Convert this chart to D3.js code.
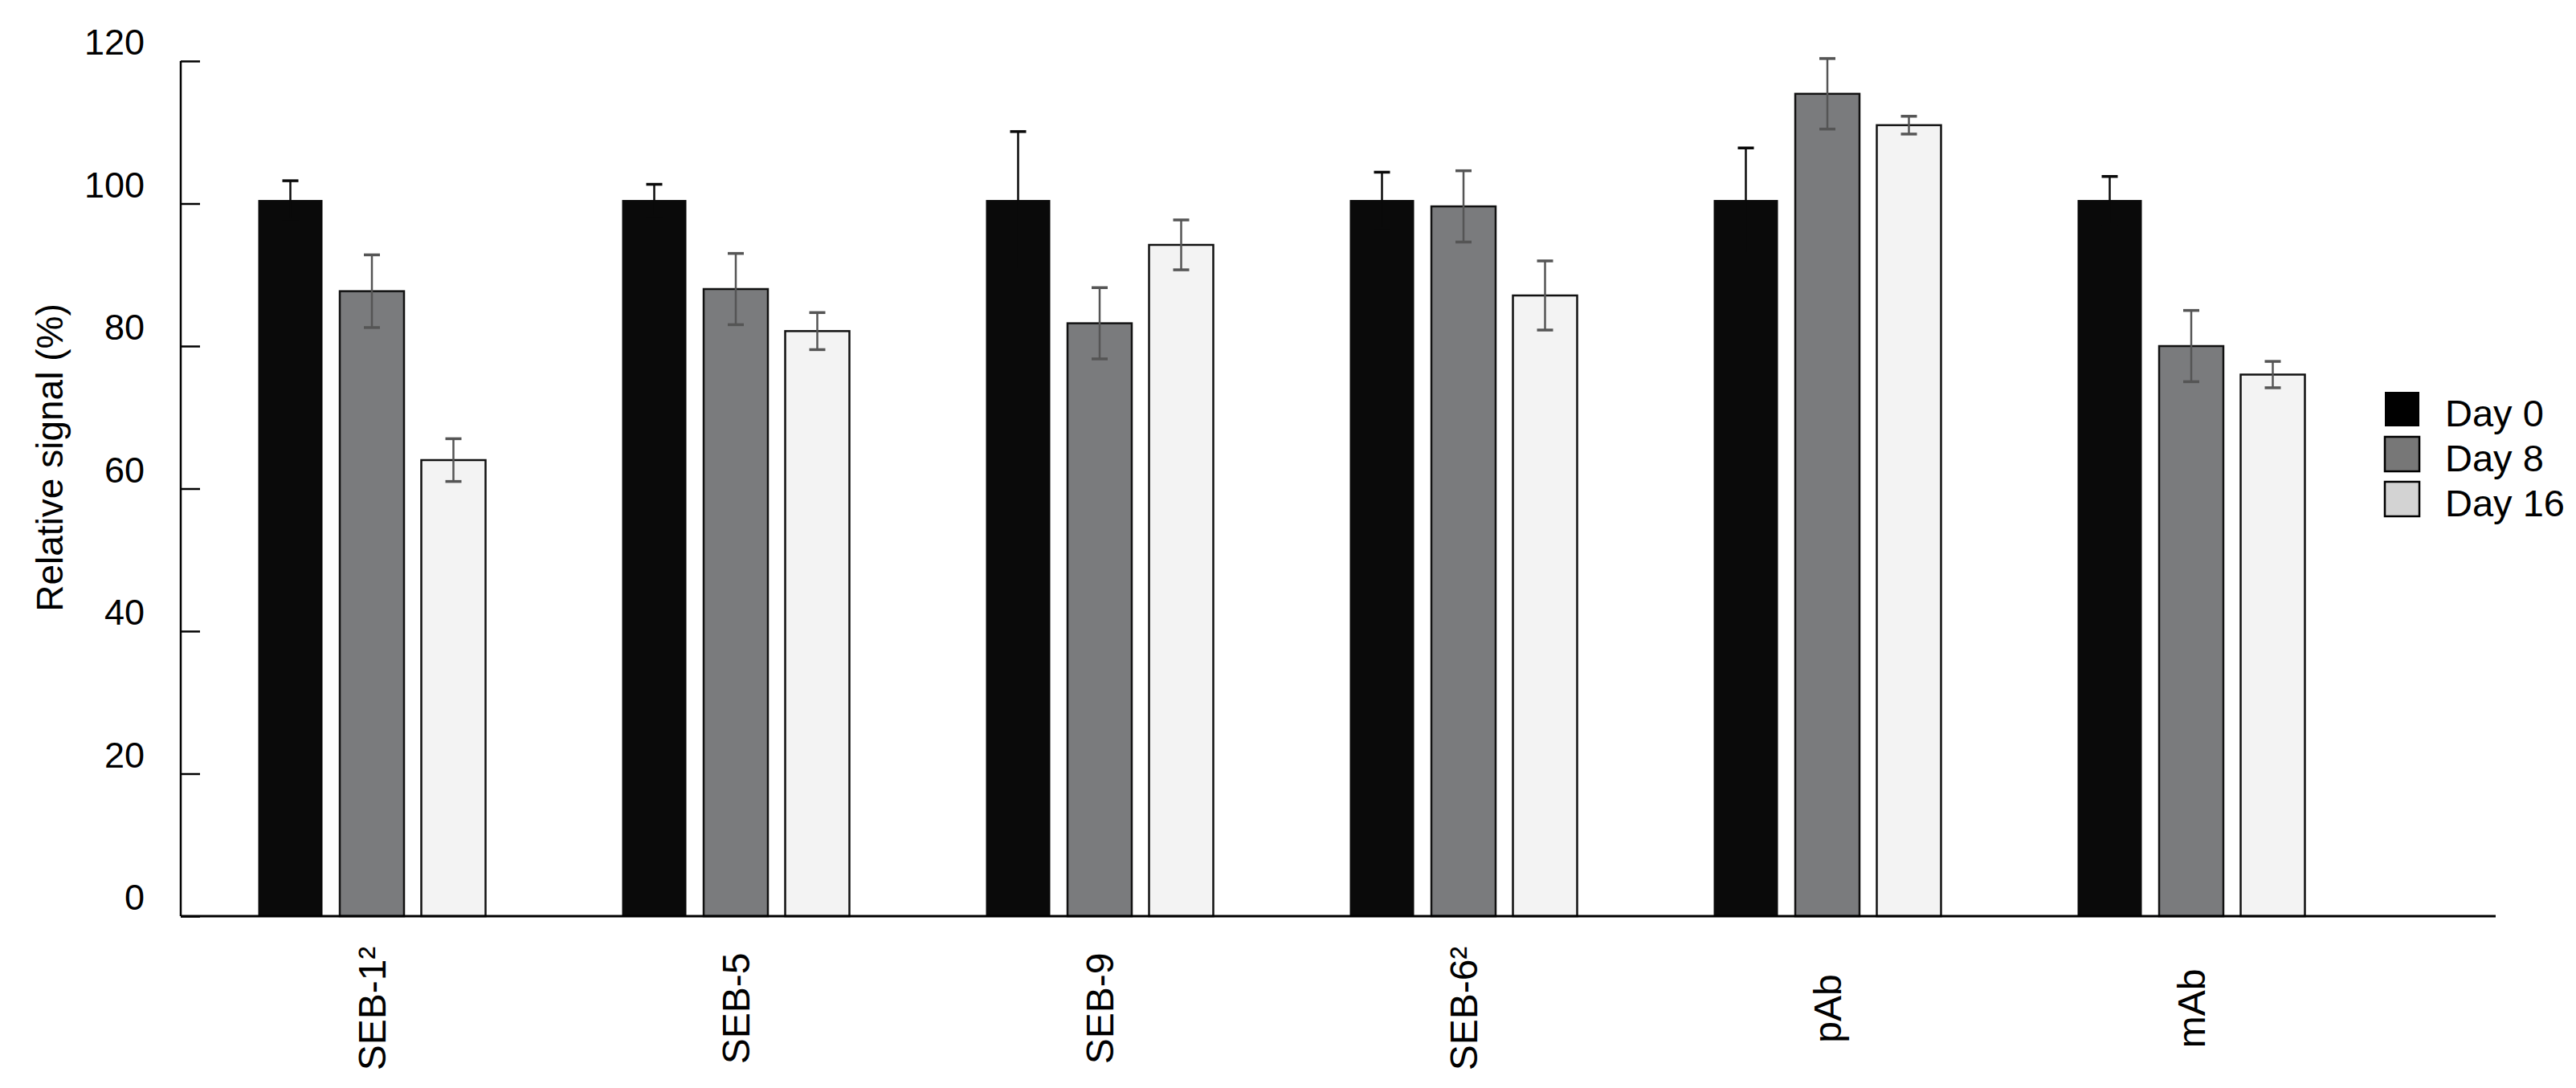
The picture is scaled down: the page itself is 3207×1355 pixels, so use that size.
<!DOCTYPE html>
<html>
<head>
<meta charset="utf-8">
<script src="https://cdn.jsdelivr.net/npm/d3@7"></script>
<style>
  html, body { margin: 0; padding: 0; background: #fff; }
  svg { display: block; font-family: "Liberation Sans", Arial, Helvetica, sans-serif; }
</style>
</head>
<body>
<svg id="chart" width="3207" height="1355"></svg>
<script>
// ---- data ----
const categories = ["SEB-1²", "SEB-5", "SEB-9", "SEB-6²", "pAb", "mAb"];
const seriesNames = ["Day 0", "Day 8", "Day 16"];
const day0 = [100.5, 100.5, 100.5, 100.5, 100.5, 100.5];
const day0Err = [2.7, 2.2, 9.6, 3.9, 7.3, 3.3];
const day8 = [87.7, 88.0, 83.2, 99.6, 115.4, 80.0];
const day8Err = [5.1, 5.0, 5.0, 5.0, 4.95, 5.0];
const day16 = [64.0, 82.1, 94.2, 87.1, 111.0, 76.0];
const day16Err = [3.0, 2.6, 3.5, 4.85, 1.25, 1.85];
const yTicks = [0, 20, 40, 60, 80, 100, 120];
const yTitle = "Relative signal (%)";

// ---- styles ----
const barFill = ["#0a0a0a", "#7a7b7d", "#f3f3f3"];
const barStroke = ["#0a0a0a", "#111111", "#111111"];
const errColor = ["#0a0a0a", "#555555", "#555555"];
const legendFill = ["#000000", "#777777", "#d3d3d3"];

const values = [day0, day8, day16];
const errors = [day0Err, day8Err, day16Err];

const svg = d3.select("#chart");

const axisX = 225, axisRight = 3107;
const y = d3.scaleLinear().domain([0, 120]).range([1141, 76]);

const groupStep = 453;
const firstCenter = 463;
const x0 = d3.scaleBand().domain(categories)
  .range([firstCenter - groupStep / 2, firstCenter + groupStep * (categories.length - 0.5)])
  .padding(0);
const subStep = 101.5;
const x1 = d3.scaleBand().domain(seriesNames)
  .range([0, subStep * 3]).paddingInner(0.212).paddingOuter(0.106);
const groupOffset = (x0.bandwidth() - subStep * 3) / 2;

// ---- bars ----
const rows = [];
categories.forEach((c, ci) => {
  seriesNames.forEach((s, si) => {
    rows.push({ c, s, si, v: values[si][ci], e: errors[si][ci] });
  });
});

const g = svg.append("g");
g.selectAll("rect.bar").data(rows).join("rect")
  .attr("class", "bar")
  .attr("x", d => x0(d.c) + groupOffset + x1(d.s))
  .attr("y", d => y(d.v))
  .attr("width", x1.bandwidth())
  .attr("height", d => y(0) - y(d.v))
  .attr("fill", d => barFill[d.si])
  .attr("stroke", d => barStroke[d.si])
  .attr("stroke-width", d => d.si === 0 ? 0 : 2.5);

// ---- error bars ----
const capW = 20;
const eb = g.selectAll("g.err").data(rows).join("g").attr("class", "err")
  .attr("stroke", d => errColor[d.si])
  .attr("stroke-width", 2.5);
const cx = d => x0(d.c) + groupOffset + x1(d.s) + x1.bandwidth() / 2;
eb.append("line")
  .attr("x1", cx).attr("x2", cx)
  .attr("y1", d => y(d.v + d.e)).attr("y2", d => y(d.v - d.e));
eb.append("line")
  .attr("x1", d => cx(d) - capW / 2).attr("x2", d => cx(d) + capW / 2)
  .attr("y1", d => y(d.v + d.e)).attr("y2", d => y(d.v + d.e))
  .attr("stroke-width", 3.5);
eb.append("line")
  .attr("x1", d => cx(d) - capW / 2).attr("x2", d => cx(d) + capW / 2)
  .attr("y1", d => y(d.v - d.e)).attr("y2", d => y(d.v - d.e))
  .attr("stroke-width", 3.5);

// ---- y axis ----
const yAxis = d3.axisRight(y).tickValues(yTicks).tickSize(24).tickFormat("");
const ya = svg.append("g").attr("transform", `translate(${axisX},0)`).call(yAxis);
ya.select(".domain").remove();
ya.selectAll(".tick line").attr("stroke", "#000").attr("stroke-width", 2.5);
svg.append("line")
  .attr("x1", axisX).attr("x2", axisX)
  .attr("y1", y(120)).attr("y2", y(0))
  .attr("stroke", "#000").attr("stroke-width", 2.5);

svg.append("g").selectAll("text").data(yTicks).join("text")
  .attr("x", 180)
  .attr("y", d => y(d) - 8)
  .attr("text-anchor", "end")
  .attr("font-size", 45)
  .attr("fill", "#000")
  .text(d => d);

// ---- x axis ----
svg.append("line")
  .attr("x1", axisX).attr("x2", axisRight)
  .attr("y1", y(0)).attr("y2", y(0))
  .attr("stroke", "#000").attr("stroke-width", 3);

svg.append("g").selectAll("text").data(categories).join("text")
  .attr("transform", d => `translate(${x0(d) + x0.bandwidth() / 2},1256) rotate(-90)`)
  .attr("text-anchor", "middle")
  .attr("dy", "0.35em")
  .attr("font-size", 48)
  .attr("fill", "#000")
  .text(d => d);

// ---- y title ----
svg.append("text")
  .attr("transform", "translate(62,570) rotate(-90)")
  .attr("text-anchor", "middle")
  .attr("dy", "0.35em")
  .attr("font-size", 46)
  .attr("fill", "#000")
  .text(yTitle);

// ---- legend ----
const leg = svg.append("g").attr("transform", "translate(2969,488)");
const li = leg.selectAll("g").data(seriesNames).join("g")
  .attr("transform", (d, i) => `translate(0,${i * 56})`);
li.append("rect")
  .attr("width", 43).attr("height", 43)
  .attr("fill", (d, i) => legendFill[i])
  .attr("stroke", "#000").attr("stroke-width", (d, i) => i === 0 ? 0 : 2.5);
li.append("text")
  .attr("x", 75).attr("y", 43)
  .attr("font-size", 47)
  .attr("fill", "#000")
  .text(d => d);
</script>
</body>
</html>
